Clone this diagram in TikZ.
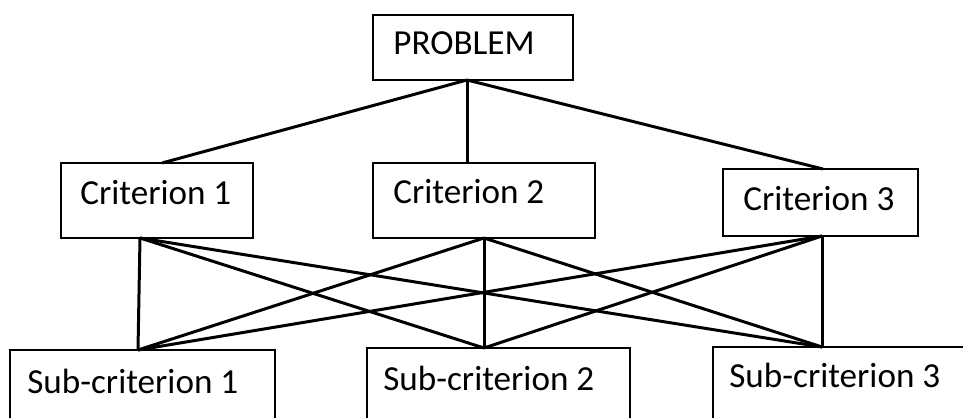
\documentclass[tikz,border=0pt]{standalone}
\usepackage{fontspec}
\setmainfont{Carlito}
\usetikzlibrary{fit}

\begin{document}
\begin{tikzpicture}[x=0.02cm, y=-0.02cm,
                    box/.style={draw, line width=1pt, inner sep=0pt},
                    txt/.style={anchor=base west, inner sep=0pt,
                                font=\fontsize{20}{24}\selectfont}]
                      \clip (0,0) rectangle (963,418);
                      \fill[white] (0,0) rectangle (963,418);

                      % boxes
                      \node[box, fit={(373,15) (573,80)}] (prob) {};
                      \node[box, fit={(61,163) (253,238)}] (c1) {};
                      \node[box, fit={(373,163) (595,238)}] (c2) {};
                      \node[box, fit={(723,169) (918,236)}] (c3) {};
                      \node[box, fit={(10,350) (275,440)}] (s1) {};
                      \node[box, fit={(367,348) (630,440)}] (s2) {};
                      \node[box, fit={(713,347) (990,440)}] (s3) {};

                      % texts
                      \node[txt] (prob-t) at (393,55) {PROBLEM};
                      \node[txt] (c1-t) at (80,205) {Criterion 1};
                      \node[txt] (c2-t) at (393,204) {Criterion 2};
                      \node[txt] (c3-t) at (743,211) {Criterion 3};
                      \node[txt] (s1-t) at (27,393) {Sub-criterion 1};
                      \node[txt] (s2-t) at (383,390) {Sub-criterion 2};
                      \node[txt] (s3-t) at (729,387) {Sub-criterion 3};

                      % connection points
                      \coordinate (prob-b) at (467,80);
                      \coordinate (c1-n) at (162,163);
                      \coordinate (c2-n) at (467,163);
                      \coordinate (c3-n) at (823,169);
                      \coordinate (c1-s) at (140,238);
                      \coordinate (c2-s) at (484,238);
                      \coordinate (c3-s) at (822,236);
                      \coordinate (s1-n) at (138,350);
                      \coordinate (s2-n) at (484,348);
                      \coordinate (s3-n) at (822,347);

                      \foreach \j in {c1, c2, c3} {
                              \draw[line width=1.7pt] (prob-b) -- (\j-n);
                          }
                      \foreach \i in {c1, c2, c3} {
                          \foreach \j in {s1, s2, s3} {
                              \draw[line width=1.7pt] (\i-s) -- (\j-n);
                          }
                      }
                  \end{tikzpicture}
\end{document}
